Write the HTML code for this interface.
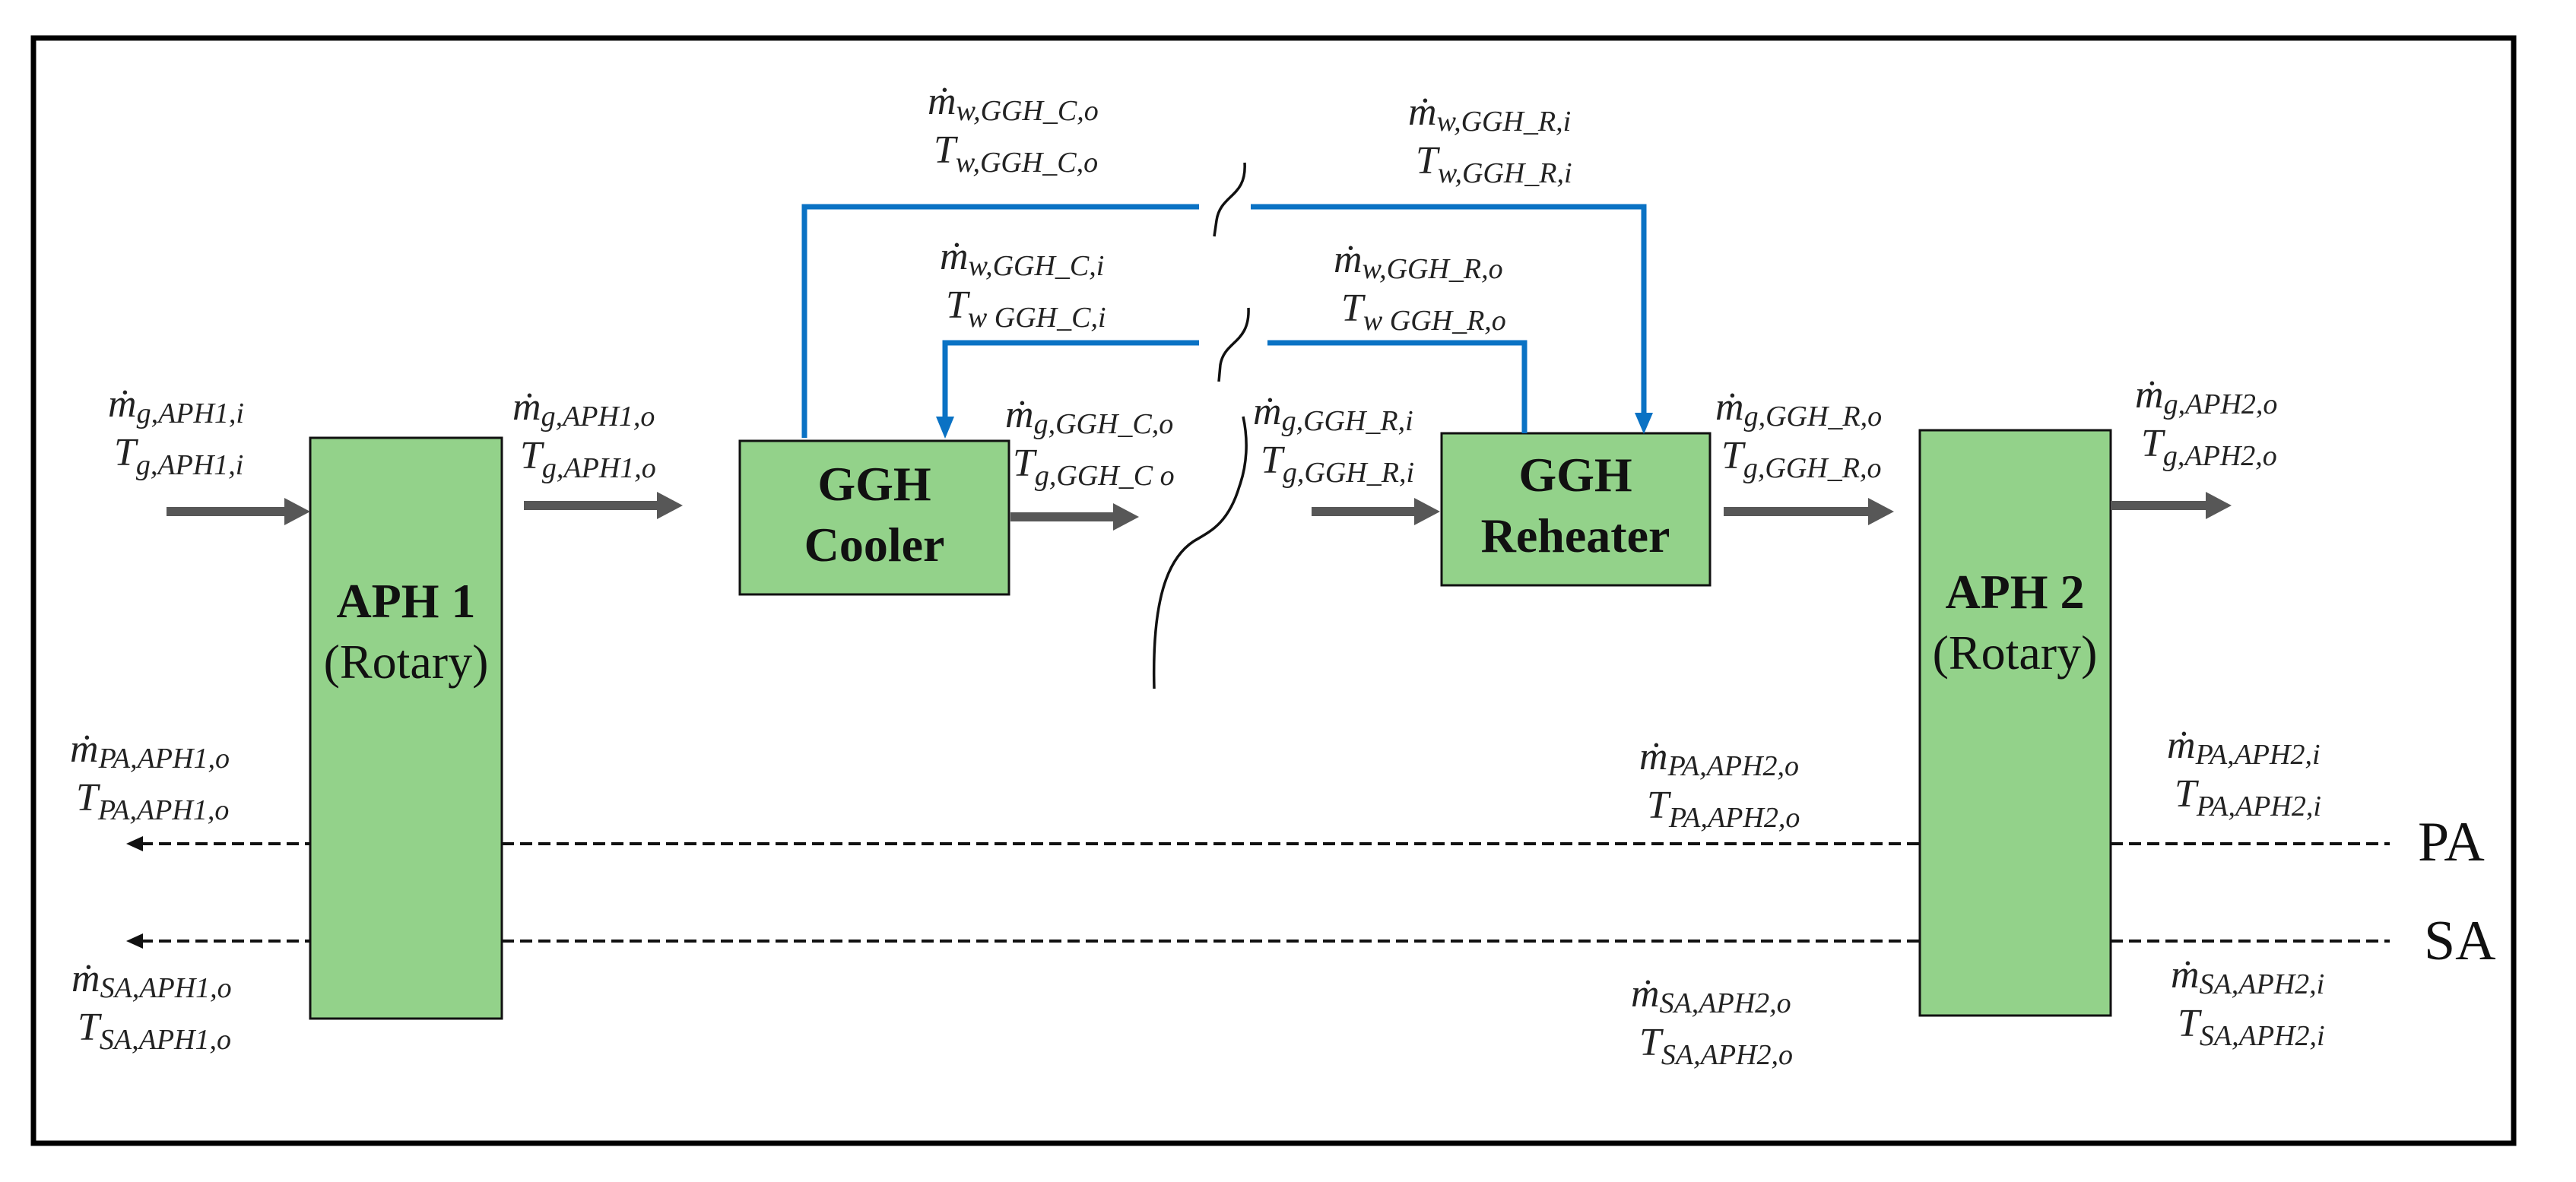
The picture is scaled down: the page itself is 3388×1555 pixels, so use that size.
<!DOCTYPE html>
<html><head><meta charset="utf-8"><style>
html,body{margin:0;padding:0;background:#fff;}
svg{display:block;}
text{font-family:"Liberation Serif","DejaVu Serif",serif;}
.l{font-style:italic;font-size:52px;fill:#222;}
.s{font-size:38px;}
.b{font-weight:bold;font-size:64px;fill:#111;}
.r{font-size:64px;fill:#111;}
</style></head><body>
<svg width="3388" height="1555" viewBox="0 0 3388 1555" xmlns="http://www.w3.org/2000/svg">
<rect x="0" y="0" width="3388" height="1555" fill="#fff"/>
<rect x="44" y="50" width="3262" height="1454" fill="none" stroke="#000" stroke-width="7"/>

<!-- boxes -->
<rect x="408" y="576" width="252" height="764" fill="#93d28a" stroke="#111" stroke-width="3"/>
<rect x="2525" y="566" width="251" height="770" fill="#93d28a" stroke="#111" stroke-width="3"/>
<rect x="973" y="580" width="354" height="202" fill="#93d28a" stroke="#111" stroke-width="3"/>
<rect x="1896" y="570" width="353" height="200" fill="#93d28a" stroke="#111" stroke-width="3"/>

<text class="b" x="534" y="812" text-anchor="middle">APH 1</text>
<text class="r" x="534" y="892" text-anchor="middle">(Rotary)</text>
<text class="b" x="2650" y="800" text-anchor="middle">APH 2</text>
<text class="r" x="2650" y="880" text-anchor="middle">(Rotary)</text>
<text class="b" x="1150" y="658" text-anchor="middle">GGH</text>
<text class="b" x="1150" y="738" text-anchor="middle">Cooler</text>
<text class="b" x="2072" y="646" text-anchor="middle">GGH</text>
<text class="b" x="2072" y="726" text-anchor="middle">Reheater</text>

<!-- gray arrows -->
<g fill="#575757">
<rect x="219" y="667" width="160" height="12"/><path d="M374,655 L408,673 L374,691Z"/>
<rect x="689" y="659" width="180" height="12"/><path d="M864,647 L898,665 L864,683Z"/>
<rect x="1329" y="674" width="140" height="12"/><path d="M1464,662 L1498,680 L1464,698Z"/>
<rect x="1725" y="667" width="140" height="12"/><path d="M1860,655 L1894,673 L1860,691Z"/>
<rect x="2267" y="667" width="195" height="12"/><path d="M2457,655 L2491,673 L2457,691Z"/>
<rect x="2776" y="659" width="130" height="12"/><path d="M2901,647 L2935,665 L2901,683Z"/>
</g>

<!-- blue lines -->
<g stroke="#0a72c4" stroke-width="7" fill="none">
<path d="M1058,576 L1058,272 L1577,272"/>
<path d="M1645,272 L2162,272 L2162,545"/>
<path d="M1577,451 L1243,451 L1243,550"/>
<path d="M1667,451 L2005,451 L2005,570"/>
</g>
<g fill="#0a72c4">
<path d="M2150,543 L2174,543 L2162,571Z"/>
<path d="M1231,548 L1255,548 L1243,577Z"/>
</g>

<!-- break squiggles -->
<g stroke="#111" stroke-width="3.5" fill="none">
<path d="M1637,214 C1640,260 1605,255 1600,290 L1597,311"/>
<path d="M1642,405 C1644,452 1610,448 1605,480 L1603,502"/>
<path d="M1635,548 C1642,580 1640,612 1630,640 C1615,690 1590,700 1570,712 C1535,735 1515,790 1518,906"/>
</g>

<!-- dashed lines -->
<g stroke="#111" stroke-width="4" stroke-dasharray="16,8" fill="none">
<line x1="185" y1="1110" x2="408" y2="1110"/>
<line x1="660" y1="1110" x2="2525" y2="1110"/>
<line x1="2776" y1="1110" x2="3143" y2="1110"/>
<line x1="185" y1="1238" x2="408" y2="1238"/>
<line x1="660" y1="1238" x2="2525" y2="1238"/>
<line x1="2776" y1="1238" x2="3143" y2="1238"/>
</g>
<path d="M166,1110 L188,1100 L188,1120Z" fill="#111"/>
<path d="M166,1238 L188,1228 L188,1248Z" fill="#111"/>
<text x="3180" y="1132" style="font-size:74px;fill:#111">PA</text>
<text x="3188" y="1262" style="font-size:74px;fill:#111">SA</text>

<!-- labels -->
<g class="l">
<text x="142" y="548">ṁ<tspan class="s" dy="8">g,APH1,i</tspan></text>
<text x="150" y="612">T<tspan class="s" dy="12">g,APH1,i</tspan></text>
<text x="674" y="552">ṁ<tspan class="s" dy="8">g,APH1,o</tspan></text>
<text x="684" y="616">T<tspan class="s" dy="12">g,APH1,o</tspan></text>
<text x="1322" y="562">ṁ<tspan class="s" dy="8">g,GGH_C,o</tspan></text>
<text x="1332" y="626">T<tspan class="s" dy="12">g,GGH_C o</tspan></text>
<text x="1648" y="558">ṁ<tspan class="s" dy="8">g,GGH_R,i</tspan></text>
<text x="1658" y="622">T<tspan class="s" dy="12">g,GGH_R,i</tspan></text>
<text x="2256" y="552">ṁ<tspan class="s" dy="8">g,GGH_R,o</tspan></text>
<text x="2264" y="616">T<tspan class="s" dy="12">g,GGH_R,o</tspan></text>
<text x="2808" y="536">ṁ<tspan class="s" dy="8">g,APH2,o</tspan></text>
<text x="2816" y="600">T<tspan class="s" dy="12">g,APH2,o</tspan></text>

<text x="1220" y="150">ṁ<tspan class="s" dy="8">w,GGH_C,o</tspan></text>
<text x="1228" y="214">T<tspan class="s" dy="12">w,GGH_C,o</tspan></text>
<text x="1236" y="354">ṁ<tspan class="s" dy="8">w,GGH_C,i</tspan></text>
<text x="1244" y="418">T<tspan class="s" dy="12">w GGH_C,i</tspan></text>
<text x="1852" y="164">ṁ<tspan class="s" dy="8">w,GGH_R,i</tspan></text>
<text x="1862" y="228">T<tspan class="s" dy="12">w,GGH_R,i</tspan></text>
<text x="1754" y="358">ṁ<tspan class="s" dy="8">w,GGH_R,o</tspan></text>
<text x="1764" y="422">T<tspan class="s" dy="12">w GGH_R,o</tspan></text>

<text x="92" y="1002">ṁ<tspan class="s" dy="8">PA,APH1,o</tspan></text>
<text x="100" y="1066">T<tspan class="s" dy="12">PA,APH1,o</tspan></text>
<text x="94" y="1304">ṁ<tspan class="s" dy="8">SA,APH1,o</tspan></text>
<text x="102" y="1368">T<tspan class="s" dy="12">SA,APH1,o</tspan></text>
<text x="2156" y="1012">ṁ<tspan class="s" dy="8">PA,APH2,o</tspan></text>
<text x="2166" y="1076">T<tspan class="s" dy="12">PA,APH2,o</tspan></text>
<text x="2145" y="1324">ṁ<tspan class="s" dy="8">SA,APH2,o</tspan></text>
<text x="2156" y="1388">T<tspan class="s" dy="12">SA,APH2,o</tspan></text>
<text x="2850" y="997">ṁ<tspan class="s" dy="8">PA,APH2,i</tspan></text>
<text x="2860" y="1061">T<tspan class="s" dy="12">PA,APH2,i</tspan></text>
<text x="2855" y="1299">ṁ<tspan class="s" dy="8">SA,APH2,i</tspan></text>
<text x="2864" y="1363">T<tspan class="s" dy="12">SA,APH2,i</tspan></text>
</g>
</svg>
</body></html>
